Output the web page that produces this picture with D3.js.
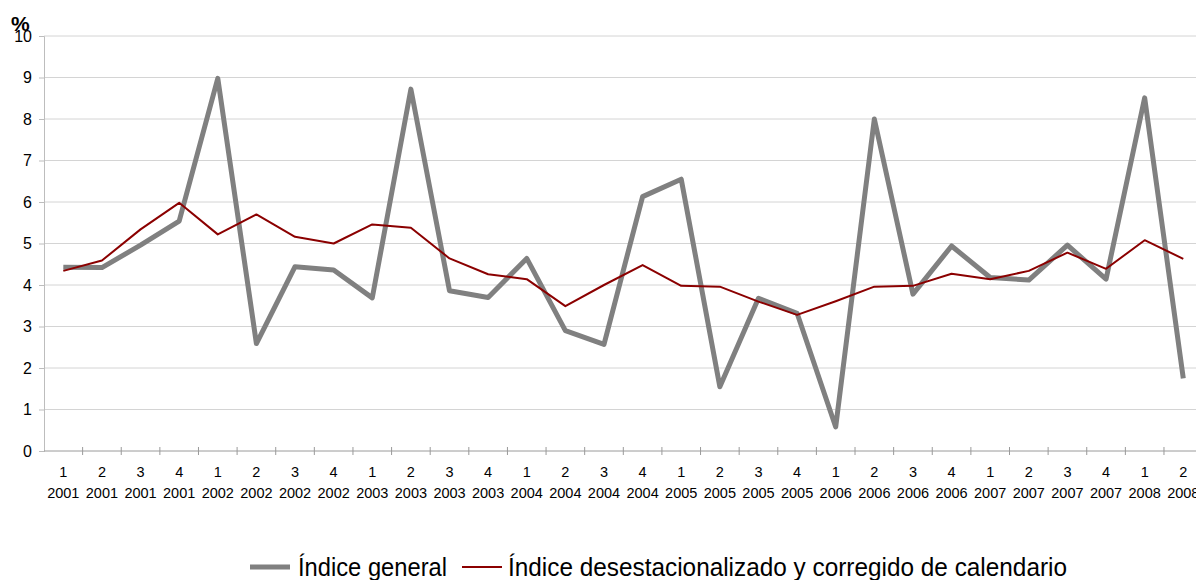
<!DOCTYPE html>
<html>
<head>
<meta charset="utf-8">
<script src="https://cdn.jsdelivr.net/npm/d3@7"></script>
<style>
  html, body { margin: 0; padding: 0; background: #fff; }
  svg { display: block; font-family: "Liberation Sans", Arial, sans-serif; }
</style>
</head>
<body>
<svg id="chart" width="1196" height="580"></svg>
<script>
const quarters = ["1","2","3","4","1","2","3","4","1","2","3","4","1","2","3","4","1","2","3","4","1","2","3","4","1","2","3","4","1","2"];
const years = ["2001","2001","2001","2001","2002","2002","2002","2002","2003","2003","2003","2003","2004","2004","2004","2004","2005","2005","2005","2005","2006","2006","2006","2006","2007","2007","2007","2007","2008","2008"];
const indiceGeneral = [4.43, 4.42, 4.96, 5.54, 8.98, 2.59, 4.44, 4.36, 3.69, 8.72, 3.86, 3.70, 4.64, 2.90, 2.57, 6.13, 6.55, 1.55, 3.68, 3.32, 0.58, 8.00, 3.78, 4.94, 4.18, 4.12, 4.96, 4.14, 8.51, 1.75];
const indiceDesest = [4.34, 4.59, 5.34, 5.98, 5.22, 5.70, 5.16, 5.00, 5.46, 5.38, 4.64, 4.26, 4.14, 3.49, 4.00, 4.48, 3.98, 3.96, 3.60, 3.28, 3.61, 3.96, 3.98, 4.27, 4.14, 4.34, 4.78, 4.39, 5.08, 4.63];
const yTicks = [0,1,2,3,4,5,6,7,8,9,10];
const seriesNames = ["Índice general", "Índice desestacionalizado y corregido de calendario"];

(function () {
const svg = d3.select("#chart");
const idx = d3.range(quarters.length);

const mLeft = 44, mRight = 1202.6, mTop = 36, mBottom = 451;
const x = d3.scaleBand().domain(idx).range([mLeft, mRight]).padding(0);
const y = d3.scaleLinear().domain([0, 10]).range([mBottom, mTop]);
const cx = i => x(i) + x.bandwidth() / 2;

// gridlines
svg.append("g").selectAll("line").data(yTicks.filter(d => d > 0)).join("line")
  .attr("x1", mLeft).attr("x2", 1196)
  .attr("y1", d => y(d)).attr("y2", d => y(d))
  .attr("stroke", "#d4d4d4").attr("stroke-width", 1);

// y axis
const yAxis = d3.axisLeft(y).tickValues(yTicks).tickSize(5).tickPadding(7).tickFormat(d3.format("d"));
const gy = svg.append("g").attr("transform", `translate(${mLeft},0)`).call(yAxis);
gy.select(".domain").attr("stroke", "#bdbdbd");
gy.selectAll(".tick line").attr("stroke", "#bdbdbd");
gy.selectAll(".tick text").attr("font-size", 16).attr("fill", "#000")
  .attr("font-family", "Liberation Sans, Arial, sans-serif");

// x axis line
svg.append("line").attr("x1", mLeft).attr("x2", 1196).attr("y1", y(0)).attr("y2", y(0))
  .attr("stroke", "#9a9a9a").attr("stroke-width", 1);
// x ticks at band boundaries (crossing)
svg.append("g").selectAll("line").data(idx.slice(1)).join("line")
  .attr("x1", d => x(d)).attr("x2", d => x(d))
  .attr("y1", y(0) - 4).attr("y2", y(0) + 4)
  .attr("stroke", "#9a9a9a").attr("stroke-width", 1);

// x labels
const xl = svg.append("g").attr("font-size", 14.5).attr("fill", "#000").attr("text-anchor", "middle");
xl.selectAll("text.q").data(idx).join("text").attr("class", "q")
  .attr("x", d => cx(d)).attr("y", 477).text(d => quarters[d]);
xl.selectAll("text.yr").data(idx).join("text").attr("class", "yr")
  .attr("x", d => cx(d)).attr("y", 498).text(d => years[d]);

// % label
svg.append("text").attr("x", 11).attr("y", 31).attr("font-size", 21).attr("font-weight", "bold")
  .attr("fill", "#000").text("%");

// lines
const line = d3.line().x((d, i) => cx(i)).y(d => y(d));
svg.append("path").datum(indiceGeneral).attr("d", line)
  .attr("fill", "none").attr("stroke", "#808080").attr("stroke-width", 5)
  .attr("stroke-linejoin", "round");
svg.append("path").datum(indiceDesest).attr("d", line)
  .attr("fill", "none").attr("stroke", "#8B0000").attr("stroke-width", 2)
  .attr("stroke-linejoin", "round");

// legend
const lg = svg.append("g");
lg.append("line").attr("x1", 250).attr("x2", 290).attr("y1", 567).attr("y2", 567)
  .attr("stroke", "#808080").attr("stroke-width", 5);
lg.append("text").attr("x", 298).attr("y", 576).attr("font-size", 25).attr("fill", "#000")
  .attr("textLength", 149).attr("lengthAdjust", "spacingAndGlyphs").text(seriesNames[0]);
lg.append("line").attr("x1", 462).attr("x2", 502).attr("y1", 567).attr("y2", 567)
  .attr("stroke", "#8B0000").attr("stroke-width", 2);
lg.append("text").attr("x", 508).attr("y", 576).attr("font-size", 25).attr("fill", "#000")
  .attr("textLength", 559).attr("lengthAdjust", "spacingAndGlyphs").text(seriesNames[1]);
})();
</script>
</body>
</html>
